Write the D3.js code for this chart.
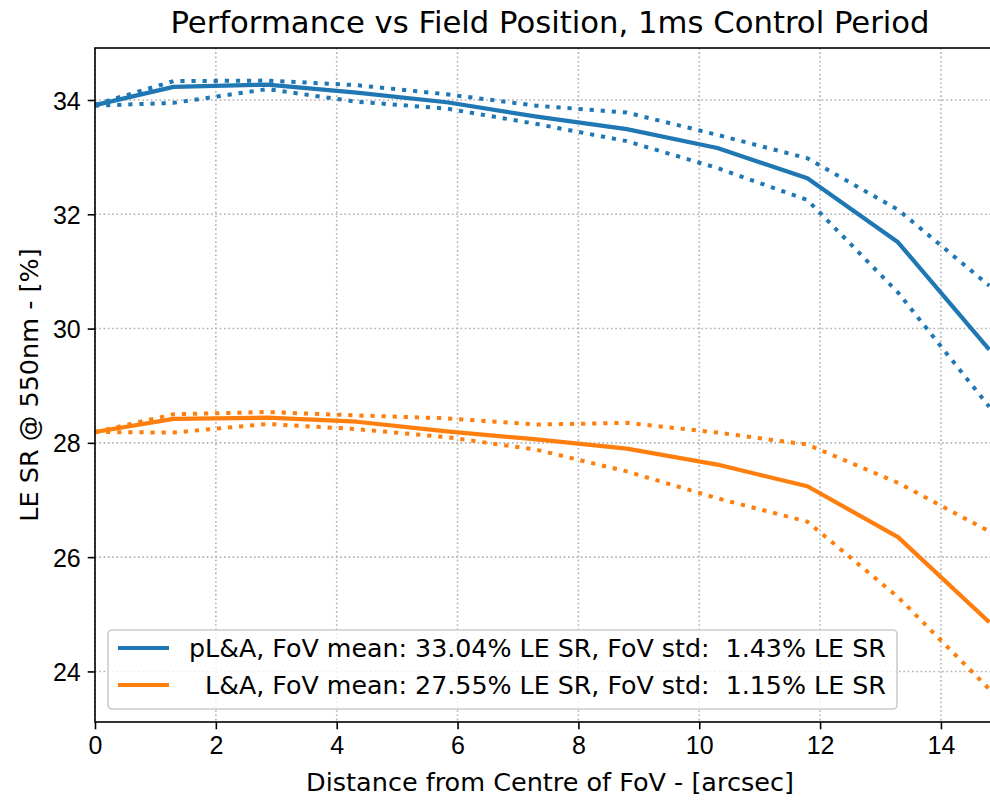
<!DOCTYPE html>
<html>
<head>
<meta charset="utf-8">
<script src="https://cdn.jsdelivr.net/npm/d3@7"></script>
<style>
  body { margin: 0; background: #fff; }
  svg { display: block; font-family: "DejaVu Sans", sans-serif; }
  .tick text { font-size: 25px; fill: #000; }
  .tick line { stroke: #000; stroke-width: 1.6px; }
  .grid line { stroke: #b0b0b0; stroke-width: 1.6px; stroke-dasharray: 1.6,2.7; }
</style>
</head>
<body>
<div id="chart"></div>
<script>
// distance from centre of FoV [arcsec]
const xPos = [0, 1.30, 2.85, 4.33, 5.82, 7.31, 8.80, 10.30, 11.79, 13.29, 14.80];

// pL&A: mean and +/- std
const plaMean  = [33.91, 34.23, 34.27, 34.13, 33.96, 33.71, 33.49, 33.16, 32.63, 31.51, 29.63];
const plaUpper = [33.92, 34.33, 34.34, 34.26, 34.10, 33.90, 33.78, 33.39, 32.98, 32.08, 30.75];
const plaLower = [33.90, 33.95, 34.19, 33.97, 33.85, 33.58, 33.28, 32.81, 32.25, 30.63, 28.63];

// L&A: mean and +/- std
const laMean  = [28.19, 28.42, 28.44, 28.37, 28.20, 28.06, 27.90, 27.62, 27.24, 26.35, 24.86];
const laUpper = [28.19, 28.50, 28.54, 28.48, 28.43, 28.32, 28.35, 28.18, 27.97, 27.30, 26.45];
const laLower = [28.19, 28.18, 28.33, 28.24, 28.10, 27.88, 27.50, 27.03, 26.62, 25.30, 23.69];

const legendLabels = [
    'pL&A, FoV mean: 33.04% LE SR, FoV std:  1.43% LE SR',
    '  L&A, FoV mean: 27.55% LE SR, FoV std:  1.15% LE SR'
];
const xTicks = [0, 2, 4, 6, 8, 10, 12, 14];
const yTicks = [24, 26, 28, 30, 32, 34];

const colors = ['#1f77b4', '#ff7f0e'];

const width = 990, height = 800;
const margin = { top: 48, right: -15, bottom: 78, left: 95 };
const plotW = width - margin.left - margin.right;
const plotH = height - margin.top - margin.bottom;

const svg = d3.select('#chart').append('svg')
    .attr('width', width)
    .attr('height', height);

const x = d3.scaleLinear().domain([0, 15.06]).range([0, plotW]);
const y = d3.scaleLinear().domain([23.115, 34.91]).range([plotH, 0]);

const g = svg.append('g').attr('transform', `translate(${margin.left},${margin.top})`);

// grid
g.append('g').attr('class', 'grid')
    .selectAll('line.gx').data(xTicks).enter().append('line')
    .attr('x1', d => x(d)).attr('x2', d => x(d))
    .attr('y1', 0).attr('y2', plotH);
g.select('.grid')
    .selectAll('line.gy').data(yTicks).enter().append('line')
    .attr('x1', 0).attr('x2', plotW)
    .attr('y1', d => y(d)).attr('y2', d => y(d));

// lines
const line = d3.line().x(d => x(d[0])).y(d => y(d[1]));
const series = [
    { vals: plaMean, c: 0, dotted: false },
    { vals: plaUpper, c: 0, dotted: true },
    { vals: plaLower, c: 0, dotted: true },
    { vals: laMean, c: 1, dotted: false },
    { vals: laUpper, c: 1, dotted: true },
    { vals: laLower, c: 1, dotted: true }
];
series.forEach(s => {
    g.append('path')
        .datum(xPos.map((xv, i) => [xv, s.vals[i]]))
        .attr('d', line)
        .attr('fill', 'none')
        .attr('stroke', colors[s.c])
        .attr('stroke-width', s.dotted ? 4 : 4.2)
        .attr('stroke-linejoin', 'round')
        .attr('stroke-dasharray', s.dotted ? '4.2,6.9' : null);
});

// axes
const xAxis = g.append('g')
    .attr('transform', `translate(0,${plotH})`)
    .call(d3.axisBottom(x).tickValues(xTicks).tickSize(7.3).tickPadding(7).tickSizeOuter(0));
const yAxis = g.append('g')
    .call(d3.axisLeft(y).tickValues(yTicks).tickSize(7.3).tickPadding(7).tickSizeOuter(0));
xAxis.select('.domain').remove();
yAxis.select('.domain').remove();
yAxis.selectAll('.tick text').attr('dy', '0.36em');

// spines
g.append('rect')
    .attr('x', 0).attr('y', 0)
    .attr('width', plotW).attr('height', plotH)
    .attr('fill', 'none')
    .attr('stroke', '#000')
    .attr('stroke-width', 1.6);

// legend
const legend = g.append('g').attr('transform', 'translate(13,582)');
legend.append('rect')
    .attr('width', 789).attr('height', 79)
    .attr('rx', 4)
    .attr('fill', '#fff').attr('fill-opacity', 0.8)
    .attr('stroke', '#cccccc').attr('stroke-width', 1.6);
legendLabels.forEach((lab, i) => {
    const ly = 18 + i * 37;
    legend.append('line')
        .attr('x1', 10).attr('x2', 61)
        .attr('y1', ly).attr('y2', ly)
        .attr('stroke', colors[i]).attr('stroke-width', 4.2);
    legend.append('text')
        .attr('x', 81).attr('y', ly)
        .attr('dy', '0.36em')
        .attr('font-size', 25.3)
        .style('white-space', 'pre')
        .text(lab);
});

// title and labels
svg.append('text')
    .attr('x', margin.left + plotW / 2).attr('y', 33)
    .attr('text-anchor', 'middle')
    .attr('font-size', 30.7)
    .text('Performance vs Field Position, 1ms Control Period');

svg.append('text')
    .attr('x', margin.left + plotW / 2).attr('y', 791)
    .attr('text-anchor', 'middle')
    .attr('font-size', 25.5)
    .text('Distance from Centre of FoV - [arcsec]');

svg.append('text')
    .attr('transform', `translate(38,${margin.top + plotH / 2}) rotate(-90)`)
    .attr('text-anchor', 'middle')
    .attr('font-size', 25.5)
    .text('LE SR @ 550nm - [%]');
</script>
</body>
</html>
